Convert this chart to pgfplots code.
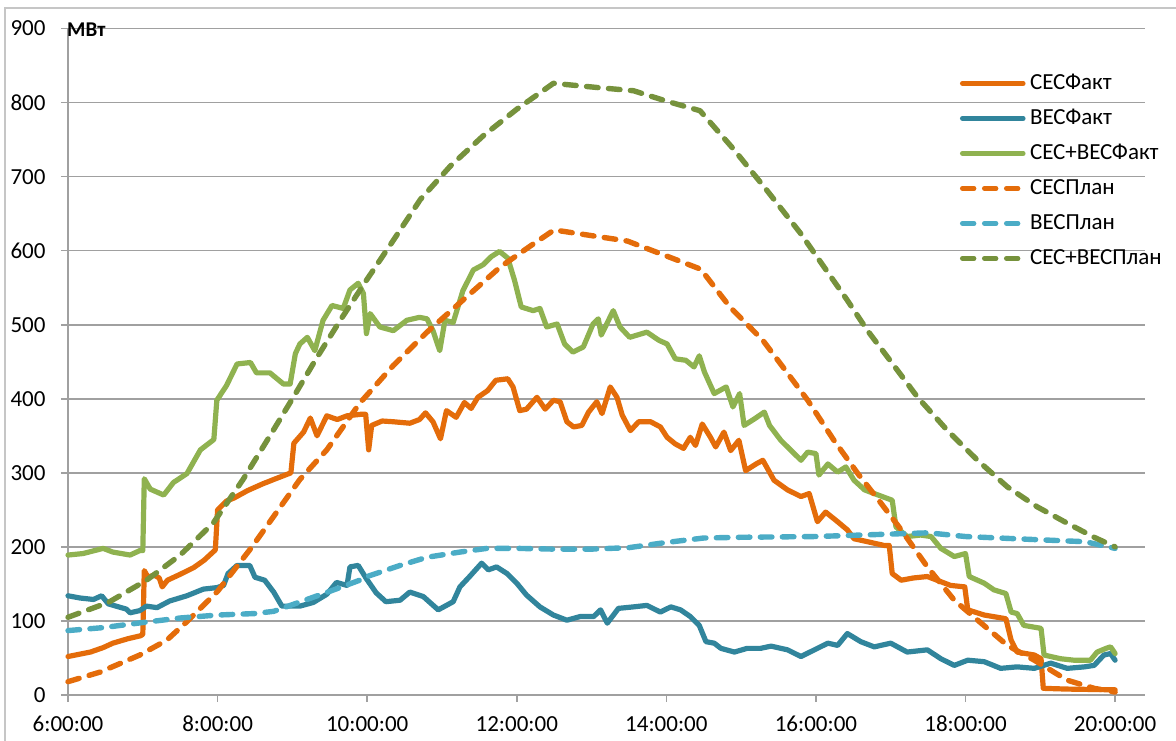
\documentclass[border=0pt]{standalone}
\usepackage{fontspec}
\setmainfont{Carlito}
\usepackage{pgfplots}
\pgfplotsset{compat=1.18}
\definecolor{cOr}{HTML}{E46C0A}
\definecolor{cBl}{HTML}{31859C}
\definecolor{cBlD}{HTML}{4BACC6}
\definecolor{cGr}{HTML}{8FB250}
\definecolor{cGrD}{HTML}{76923C}
\definecolor{cGrid}{RGB}{160,160,160}
\begin{document}
\begin{tikzpicture}
\path[use as bounding box] (0,0) rectangle (588pt,370pt);
\begin{axis}[
  at={(34pt,22.5pt)}, anchor=south west,
  scale only axis, width=538.5pt, height=333.25pt,
  xmin=6, xmax=20.40, ymin=0, ymax=900,
  axis x line*=bottom, axis y line*=left,
  axis line style={cGrid, line width=0.8pt, -},
  xtick={6,8,10,12,14,16,18,20},
  xticklabels={6:00:00,8:00:00,10:00:00,12:00:00,14:00:00,16:00:00,18:00:00,20:00:00},
  ytick={0,100,...,900},
  tick align=outside, major tick length=3.5pt,
  tick style={cGrid, line width=0.8pt},
  ymajorgrids, grid style={cGrid, line width=0.8pt},
  /pgf/number format/assume math mode=true,
  ticklabel style={font=\fontsize{11.5}{13}\selectfont},
  xticklabel style={yshift=-3.5pt},
  yticklabel style={xshift=-4.2pt},
  clip=false,
  legend style={
    at={(rel axis cs:0.8282,0.9326)}, anchor=north west, draw=none, fill=none,
    inner sep=0pt, outer sep=0pt,
    font=\fontsize{11.5}{13}\selectfont,
    row sep=7.5pt,
    nodes={inner sep=0pt, text height=8pt, text depth=2pt},
    /tikz/every odd column/.append style={column sep=2.3pt},
  },
  legend cell align=left,
  legend image code/.code={\draw[#1, line width=2.4pt, line cap=round] (1.2pt,0pt) -- (31.6pt,0pt);},
]
% CES fact
\addplot[cOr, line width=2.6pt, line join=round, line cap=round] coordinates {
(6.00,52) (6.30,58) (6.47,64) (6.60,70) (6.80,76) (6.97,80) (7.00,82) (7.02,168) (7.07,159) (7.15,162) (7.22,158) (7.26,146) (7.33,155) (7.50,163) (7.68,172) (7.82,182) (7.97,196) (8.00,250) (8.12,262) (8.22,266) (8.40,276) (8.60,285) (8.75,291) (8.98,300) (9.02,340) (9.15,355) (9.24,374) (9.33,350) (9.46,377) (9.60,372) (9.73,377) (9.91,379) (9.98,379) (10.02,331) (10.06,364) (10.20,370) (10.35,369) (10.57,367) (10.70,372) (10.78,381) (10.88,369) (10.98,346) (11.06,384) (11.19,375) (11.30,395) (11.39,387) (11.48,402) (11.61,411) (11.72,425) (11.88,427) (11.95,416) (12.04,384) (12.13,386) (12.27,402) (12.38,386) (12.49,398) (12.58,396) (12.67,369) (12.76,362) (12.87,364) (12.96,382) (13.07,396) (13.14,380) (13.25,416) (13.34,402) (13.41,378) (13.52,357) (13.63,369) (13.79,369) (13.92,362) (14.01,348) (14.12,339) (14.23,333) (14.32,348) (14.39,337) (14.48,366) (14.59,348) (14.66,335) (14.77,355) (14.86,330) (14.97,344) (15.06,303) (15.20,312) (15.29,317) (15.44,290) (15.62,277) (15.80,268) (15.91,272) (16.02,234) (16.13,247) (16.29,234) (16.42,223) (16.51,211) (16.69,207) (16.91,202) (16.98,202) (17.02,164) (17.14,155) (17.30,158) (17.49,160) (17.80,148) (17.99,146) (18.03,115) (18.25,108) (18.54,103) (18.61,74) (18.69,58) (18.92,54) (19.01,49) (19.04,9) (19.36,8) (20.00,7)
};
\addlegendentry{СЕСФакт}
% VES fact
\addplot[cBl, line width=2.6pt, line join=round, line cap=round] coordinates {
(6.00,134) (6.16,131) (6.34,129) (6.45,134) (6.54,123) (6.78,116) (6.83,111) (6.96,114) (7.05,120) (7.19,118) (7.36,127) (7.59,134) (7.81,143) (7.99,145) (8.08,148) (8.14,164) (8.26,175) (8.43,175) (8.50,159) (8.63,155) (8.75,139) (8.86,120) (9.10,120) (9.28,125) (9.46,136) (9.59,152) (9.73,148) (9.77,173) (9.88,175) (9.99,157) (10.12,138) (10.25,126) (10.44,128) (10.57,139) (10.75,133) (10.95,115) (11.15,126) (11.24,146) (11.37,160) (11.53,178) (11.62,169) (11.73,173) (11.87,164) (12.00,151) (12.13,135) (12.31,119) (12.49,108) (12.67,101) (12.85,106) (13.03,106) (13.12,115) (13.21,97) (13.36,117) (13.56,119) (13.74,121) (13.92,112) (14.06,119) (14.19,115) (14.32,106) (14.44,94) (14.53,72) (14.64,70) (14.73,63) (14.91,58) (15.08,63) (15.26,63) (15.40,66) (15.62,61) (15.80,52) (15.98,61) (16.16,70) (16.29,67) (16.42,83) (16.60,72) (16.78,65) (17.00,70) (17.22,58) (17.49,61) (17.67,49) (17.85,40) (18.03,47) (18.25,45) (18.47,36) (18.69,38) (18.92,36) (19.14,43) (19.36,36) (19.59,38) (19.72,40) (19.85,54) (19.94,56) (20.00,47)
};
\addlegendentry{ВЕСФакт}
% CES+VES fact
\addplot[cGr, line width=2.6pt, line join=round, line cap=round] coordinates {
(6.00,189) (6.20,191) (6.47,198) (6.60,193) (6.83,189) (6.96,195) (7.00,195) (7.02,292) (7.10,278) (7.28,270) (7.41,287) (7.59,299) (7.77,331) (7.95,345) (7.99,398) (8.12,418) (8.26,447) (8.44,449) (8.52,435) (8.70,435) (8.88,420) (8.97,420) (9.04,461) (9.10,474) (9.20,483) (9.30,465) (9.41,506) (9.53,526) (9.68,522) (9.77,547) (9.88,556) (9.95,542) (9.99,488) (10.04,515) (10.17,497) (10.35,492) (10.53,506) (10.70,510) (10.80,508) (10.88,492) (10.97,465) (11.04,506) (11.15,503) (11.28,546) (11.42,574) (11.55,581) (11.66,592) (11.77,599) (11.88,590) (11.97,560) (12.06,524) (12.22,519) (12.31,522) (12.40,497) (12.54,501) (12.64,474) (12.75,463) (12.89,470) (13.02,501) (13.09,508) (13.13,486) (13.29,519) (13.38,497) (13.51,483) (13.74,490) (13.90,479) (14.01,474) (14.12,454) (14.26,452) (14.37,443) (14.44,458) (14.51,436) (14.64,407) (14.80,416) (14.89,389) (14.98,407) (15.04,364) (15.18,373) (15.31,382) (15.38,364) (15.53,344) (15.67,330) (15.80,317) (15.89,328) (16.00,326) (16.04,297) (16.16,312) (16.29,301) (16.40,308) (16.51,290) (16.65,277) (16.78,272) (17.02,263) (17.07,227) (17.22,214) (17.40,216) (17.54,214) (17.67,198) (17.85,187) (18.00,191) (18.05,160) (18.25,151) (18.38,142) (18.54,137) (18.61,112) (18.69,110) (18.78,94) (19.01,90) (19.05,54) (19.27,49) (19.45,47) (19.67,47) (19.76,58) (19.88,63) (19.94,65) (20.00,56)
};
\addlegendentry{СЕС+ВЕСФакт}
% CES plan
\addplot[cOr, line width=2.7pt, line join=round, line cap=round, dash pattern=on 5.8pt off 5.2pt] coordinates {
(6.00,18) (6.43,31) (6.96,54) (7.32,74) (7.60,100) (8.00,140) (8.46,200) (9.10,291) (9.46,331) (9.90,394) (10.35,445) (10.80,490) (11.30,535) (11.78,578) (12.22,609) (12.50,628) (12.89,622) (13.48,613) (13.92,596) (14.46,575) (14.85,524) (15.29,479) (15.58,440) (15.89,398) (16.24,344) (16.56,299) (16.87,259) (17.14,223) (17.49,173) (17.85,128) (18.21,97) (18.56,67) (18.92,47) (19.36,20) (19.72,9) (20.00,4)
};
\addlegendentry{СЕСПлан}
% VES plan
\addplot[cBlD, line width=2.7pt, line join=round, line cap=round, dash pattern=on 5.8pt off 5.2pt] coordinates {
(6.00,87) (6.47,91) (7.01,98) (7.50,104) (8.00,108) (8.50,110) (8.75,113) (9.00,122) (9.50,140) (9.90,155) (10.00,160) (10.44,175) (10.80,186) (11.24,193) (11.60,198) (12.00,198) (12.50,197) (13.00,197) (13.50,199) (14.00,206) (14.50,212) (15.00,213) (16.00,214) (16.90,217) (17.50,219) (18.00,214) (18.90,210) (19.60,207) (20.00,198)
};
\addlegendentry{ВЕСПлан}
% CES+VES plan
\addplot[cGrD, line width=2.7pt, line join=round, line cap=round, dash pattern=on 5.8pt off 5.2pt] coordinates {
(6.00,105) (6.54,125) (7.05,155) (7.50,189) (7.94,232) (8.34,291) (8.70,350) (9.00,400) (9.33,456) (9.64,506) (9.99,560) (10.35,614) (10.71,669) (11.11,714) (11.55,755) (12.00,791) (12.49,826) (13.11,820) (13.56,816) (14.00,802) (14.45,789) (14.90,737) (15.34,682) (15.79,624) (16.42,533) (16.69,492) (16.96,456) (17.36,402) (17.76,357) (18.16,317) (18.56,281) (18.96,254) (19.36,232) (19.72,213) (20.00,200)
};
\addlegendentry{СЕС+ВЕСПлан}
\node[anchor=west, inner sep=0pt, xshift=-0.6pt, yshift=-0.5pt, font=\bfseries\fontsize{10.5}{12}\selectfont] at (rel axis cs:0,1) {МВт};
\end{axis}
\draw[gray!45, line width=0.7pt] (2.5pt,-5pt) -- (2.5pt,366pt) -- (600pt,366pt);
\end{tikzpicture}
\end{document}
